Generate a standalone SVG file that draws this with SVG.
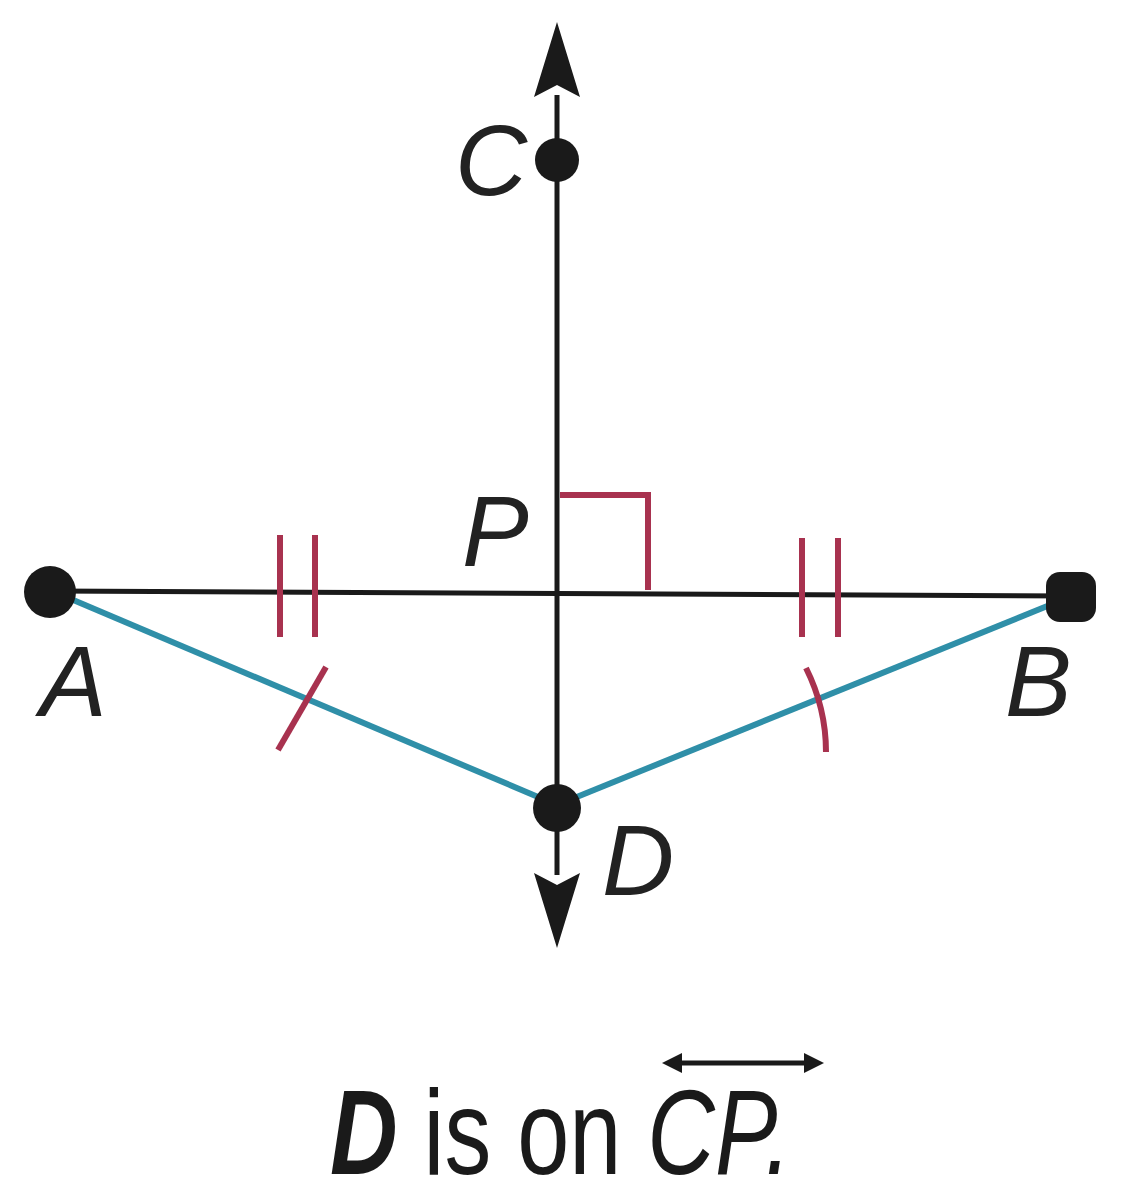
<svg xmlns="http://www.w3.org/2000/svg" width="1128" height="1200" viewBox="0 0 1128 1200">
<style>
.lbl{font-family:"Liberation Sans",Arial,sans-serif;font-style:italic;font-size:100px;fill:#222}
.cap{font-family:"Liberation Sans",Arial,sans-serif;font-size:120px;fill:#1a1a1a}
.red{stroke:#a8324f;stroke-width:6;fill:none}
.blue{stroke:#2f8fa8;stroke-width:6;fill:none}
.blk{stroke:#1a1a1a;stroke-width:5;fill:none}
</style>
<defs>
<marker id="ah" viewBox="0 0 20 20" refX="18" refY="10" markerWidth="20" markerHeight="20" markerUnits="userSpaceOnUse" orient="auto">
<path d="M0,2 L20,10 L0,18 L5,10 Z" fill="#1a1a1a"/>
</marker>
</defs>
<rect width="1128" height="1200" fill="#ffffff"/>
<g id="connectors">
<line class="blk" x1="557" y1="95" x2="557" y2="875"/>
<path d="M557,22 L580,97 L557,85 L534,97 Z" fill="#1a1a1a"/>
<path d="M557,948 L580,873 L557,885 L534,873 Z" fill="#1a1a1a"/>
<line class="blk" x1="52" y1="591" x2="1072" y2="596"/>
<polyline class="red" points="560,495 648,495 648,590"/>
<g id="ticks-left"><line class="red" x1="280" y1="535" x2="280" y2="637"/><line class="red" x1="315" y1="535" x2="315" y2="637"/></g>
<g id="ticks-right"><line class="red" x1="802" y1="538" x2="802" y2="637"/><line class="red" x1="838" y1="538" x2="838" y2="637"/></g>
<line class="blue" x1="52" y1="591" x2="557" y2="805"/>
<line class="blue" x1="557" y1="805" x2="1072" y2="596"/>
<line class="red" x1="326" y1="667" x2="278" y2="750"/>
<path class="red" d="M806,668 Q826,708 826,752"/>
</g>
<g id="node-C"><circle cx="557" cy="160" r="22" fill="#1a1a1a"/><text class="lbl" x="455" y="195">C</text></g>
<g id="node-P"><text class="lbl" x="462" y="566">P</text></g>
<g id="node-A"><circle cx="50" cy="592" r="26" fill="#1a1a1a"/><text class="lbl" x="40" y="716">A</text></g>
<g id="node-B"><rect x="1046" y="572" width="50" height="50" rx="14" fill="#1a1a1a"/><text class="lbl" x="1005" y="716">B</text></g>
<g id="node-D"><circle cx="557" cy="808" r="24" fill="#1a1a1a"/><text class="lbl" x="602" y="895">D</text></g>
<g id="caption">
<text class="cap" x="0" y="1174" transform="translate(330,0) scale(0.78,1)"><tspan font-weight="bold" font-style="italic">D</tspan> is on <tspan font-style="italic">CP.</tspan></text>
<line x1="668" y1="1063" x2="818" y2="1063" stroke="#1a1a1a" stroke-width="5"/>
<path d="M662,1063 L682,1053 L682,1073 Z" fill="#1a1a1a"/>
<path d="M824,1063 L804,1053 L804,1073 Z" fill="#1a1a1a"/>
</g>
</svg>
